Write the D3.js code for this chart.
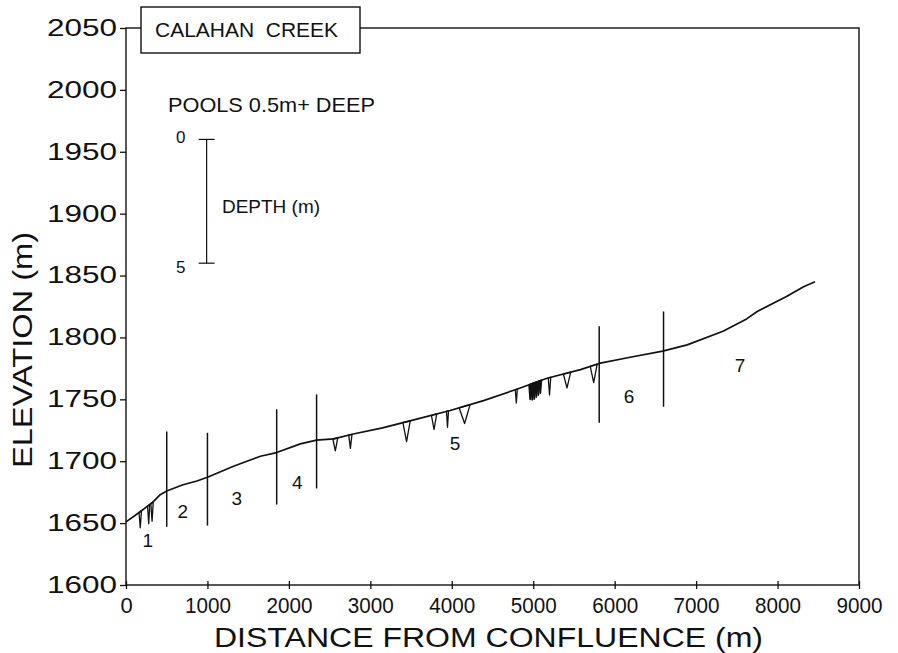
<!DOCTYPE html>
<html>
<head>
<meta charset="utf-8">
<script src="https://cdn.jsdelivr.net/npm/d3@7"></script>
<style>
  body { margin: 0; background: #fff; }
  svg { display: block; }
  text { font-family: "Liberation Sans", Arial, Helvetica, sans-serif; fill: #111; }
</style>
</head>
<body>
<script>
// ---------- data ----------
const profileDist = [0, 170, 330, 420, 500, 700, 870, 1000, 1320, 1650, 1850, 2140, 2340, 2550, 2790, 3150, 3570, 3980, 4390, 4790, 5170, 5580, 5810, 6190, 6590, 6890, 7330, 7620, 7750, 8110, 8320, 8460];
const profileElev = [1651, 1659, 1667, 1673, 1676, 1681, 1684, 1687, 1696, 1704, 1707, 1714, 1717, 1718, 1722, 1727, 1734, 1741, 1749, 1758, 1767, 1774, 1779, 1784, 1789, 1794, 1805, 1815, 1821, 1833, 1841, 1845];

// pools 0.5 m+ deep: start distance, end distance, depth (m)
const poolStart = [160, 265, 305, 2540, 2735, 3400, 3750, 3935, 4090, 4780, 4950, 4975, 5000, 5025, 5050, 5075, 5185, 5370, 5700];
const poolEnd   = [190, 292, 335, 2600, 2775, 3490, 3815, 3960, 4225, 4805, 4975, 5000, 5025, 5050, 5075, 5100, 5215, 5460, 5785];
const poolDepth = [0.65, 0.75, 0.75, 0.5, 0.55, 0.8, 0.6, 0.65, 0.7, 0.55, 0.6, 0.65, 0.65, 0.6, 0.55, 0.5, 0.7, 0.6, 0.7];

// reach boundaries
const boundaryDist   = [500, 1000, 1850, 2340, 5810, 6600];
const boundaryTop    = [1724, 1723, 1742, 1754, 1809, 1821];
const boundaryBottom = [1647, 1648, 1665, 1678, 1731, 1744];

// reach labels
const reachNames = ["1", "2", "3", "4", "5", "6", "7"];
const reachDist  = [266, 696, 1359, 2103, 4040, 6176, 7539];
const reachElev  = [1636, 1659, 1670, 1683, 1714.5, 1752, 1777];

const xTicks = [0, 1000, 2000, 3000, 4000, 5000, 6000, 7000, 8000, 9000];
const yTicks = [1600, 1650, 1700, 1750, 1800, 1850, 1900, 1950, 2000, 2050];
const depthTicks = [0, 5];
const depthExaggeration = 20; // elevation units per metre of depth

// ---------- layout ----------
const W = 898, H = 653;
const L = 126, R = 859, T = 28, B = 585;
const ink = "#111";

const svg = d3.select("body").append("svg").attr("width", W).attr("height", H);

const x = d3.scaleLinear().domain([0, 9000]).range([L, R]);
const y = d3.scaleLinear().domain([1600, 2050]).range([B, T]);
const prof = d3.scaleLinear().domain(profileDist).range(profileElev).clamp(true);

// frame
svg.append("rect").attr("x", L).attr("y", T).attr("width", R - L).attr("height", B - T)
  .attr("fill", "none").attr("stroke", ink).attr("stroke-width", 1.4);

// x axis
const gx = svg.append("g").attr("transform", `translate(0,${B})`)
  .call(d3.axisBottom(x).tickValues(xTicks).tickSize(4).tickPadding(8).tickFormat(d3.format("d")));
gx.select(".domain").remove();
gx.selectAll(".tick line").attr("y1", -4).attr("stroke", ink).attr("stroke-width", 1.3);
gx.selectAll(".tick text").attr("font-size", 22).attr("font-family", null).style("fill", ink)
  .attr("textLength", 46).attr("lengthAdjust", "spacingAndGlyphs");
gx.selectAll(".tick text").filter(d => d === 0).attr("textLength", null);

// y axis
const gy = svg.append("g").attr("transform", `translate(${L},0)`)
  .call(d3.axisLeft(y).tickValues(yTicks).tickSize(6).tickPadding(3).tickFormat(d3.format("d")));
gy.select(".domain").remove();
gy.selectAll(".tick line").attr("stroke", ink).attr("stroke-width", 1.3);
gy.selectAll(".tick text").attr("font-size", 23).attr("font-family", null).style("fill", ink)
  .attr("textLength", 70).attr("lengthAdjust", "spacingAndGlyphs");

// axis titles
svg.append("text").attr("x", (L + R) / 2 - 4).attr("y", 647).attr("text-anchor", "middle")
  .attr("font-size", 27).attr("textLength", 549).attr("lengthAdjust", "spacingAndGlyphs")
  .text("DISTANCE FROM CONFLUENCE (m)");
svg.append("text").attr("transform", "translate(32,350) rotate(-90)").attr("text-anchor", "middle")
  .attr("font-size", 27).attr("textLength", 236).attr("lengthAdjust", "spacingAndGlyphs")
  .text("ELEVATION (m)");

// profile
const line = d3.line().x((d, i) => x(profileDist[i])).y(d => y(d));
svg.append("path").datum(profileElev).attr("d", line)
  .attr("fill", "none").attr("stroke", ink).attr("stroke-width", 1.7).attr("stroke-linejoin", "round");

// pools (pools that abut a neighbour form a dark cluster)
const pools = poolStart.map((s, i) => ({
  s, e: poolEnd[i], d: poolDepth[i],
  clustered: poolStart.includes(poolEnd[i]) || poolEnd.includes(s)
}));
svg.append("g").selectAll("path").data(pools).join("path")
  .attr("d", p => {
    const m = (p.s + p.e) / 2;
    return `M${x(p.s)},${y(prof(p.s))}L${x(m)},${y(prof(m) - p.d * depthExaggeration)}L${x(p.e)},${y(prof(p.e))}Z`;
  })
  .attr("fill", p => p.clustered ? "#222" : "none")
  .attr("stroke", ink).attr("stroke-width", p => p.clustered ? 1.8 : 1.3).attr("stroke-linejoin", "round");

// reach boundaries
svg.append("g").selectAll("line").data(boundaryDist).join("line")
  .attr("x1", d => x(d)).attr("x2", d => x(d))
  .attr("y1", (d, i) => y(boundaryTop[i])).attr("y2", (d, i) => y(boundaryBottom[i]))
  .attr("stroke", ink).attr("stroke-width", 1.5);

// reach labels
svg.append("g").selectAll("text").data(reachNames).join("text")
  .attr("x", (d, i) => x(reachDist[i])).attr("y", (d, i) => y(reachElev[i]))
  .attr("text-anchor", "middle").attr("dominant-baseline", "central")
  .attr("font-size", 19).text(d => d);

// depth legend
const legX = x(990);
const legTop = 1960;
const dY = d3.scaleLinear().domain([0, 5]).range([y(legTop), y(legTop - 5 * depthExaggeration)]);
svg.append("line").attr("x1", legX).attr("x2", legX).attr("y1", dY(0)).attr("y2", dY(5))
  .attr("stroke", ink).attr("stroke-width", 1.2);
const lg = svg.append("g").selectAll("g").data(depthTicks).join("g");
lg.append("line").attr("x1", legX - 8).attr("x2", legX + 8).attr("y1", d => dY(d)).attr("y2", d => dY(d))
  .attr("stroke", ink).attr("stroke-width", 1.2);
lg.append("text").attr("x", legX - 26).attr("y", d => dY(d) + (d === 0 ? -2 : 4)).attr("text-anchor", "middle")
  .attr("dominant-baseline", "central").attr("font-size", 17).text(d => d);
svg.append("text").attr("x", 222).attr("y", 213).attr("font-size", 19)
  .attr("textLength", 98).attr("lengthAdjust", "spacingAndGlyphs").text("DEPTH (m)");

svg.append("text").attr("x", 168).attr("y", 112).attr("font-size", 21)
  .attr("textLength", 207).attr("lengthAdjust", "spacingAndGlyphs").text("POOLS 0.5m+ DEEP");

// title box
svg.append("rect").attr("x", 141).attr("y", 7).attr("width", 219).attr("height", 46)
  .attr("fill", "#fff").attr("stroke", ink).attr("stroke-width", 1.4);
svg.append("text").attr("x", 155).attr("y", 37).attr("font-size", 21).attr("xml:space", "preserve")
  .attr("textLength", 183).attr("lengthAdjust", "spacingAndGlyphs").text("CALAHAN  CREEK");
</script>
</body>
</html>
